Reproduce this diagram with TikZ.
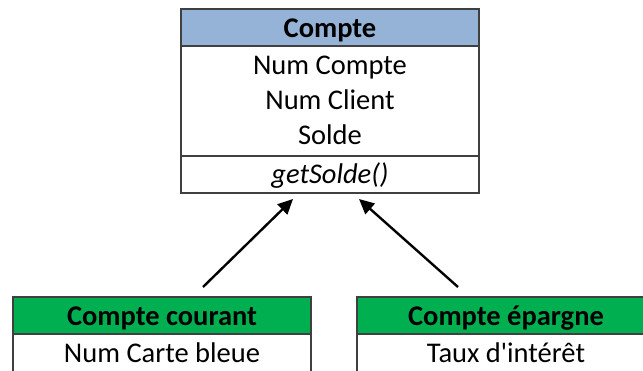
\documentclass[tikz,border=0pt]{standalone}
\usepackage{fontspec}
\setmainfont{Carlito}
\usetikzlibrary{arrows.meta}

\definecolor{headblue}{RGB}{149,179,215}
\definecolor{headgreen}{RGB}{0,176,80}
\definecolor{edgegray}{RGB}{64,64,64}

\tikzset{
  section/.style={draw=edgegray, line width=2pt, inner sep=0pt,
    minimum width=298pt, anchor=north west, outer sep=0pt},
  entry/.style={anchor=base, inner sep=0pt, font=\fontsize{28.5}{34}\selectfont},
  heading/.style={entry, font=\fontsize{28.5}{34}\selectfont\bfseries},
  inherit/.style={line width=2.4pt, -{Triangle[length=15pt,width=14pt]}}
}

\begin{document}
\begin{tikzpicture}[x=1pt, y=-1pt]
  \useasboundingbox (0,0) rectangle (643,370);
  \clip (0,0) rectangle (643,370);

  % Base class Compte
  \node[section, fill=headblue, minimum height=37pt] (cHead) at (181,9) {};
  \node[section, fill=white, minimum height=109.5pt] (cAttr) at (181,46) {};
  \node[section, fill=white, minimum height=37pt] (cMeth) at (181,155.5) {};
  \node[heading] (tCompte) at (330,37) {Compte};
  \node[entry] (tNumCompte) at (330,74) {Num Compte};
  \node[entry] (tNumClient) at (330,109) {Num Client};
  \node[entry] (tSolde) at (330,144) {Solde};
  \node[entry, font=\fontsize{28.5}{34}\selectfont\itshape] (tGet) at (330,183) {getSolde()};

  % Subclass Compte courant
  \node[section, fill=headgreen, minimum height=37pt] (ccHead) at (13,297) {};
  \node[section, fill=white, minimum height=80pt] (ccAttr) at (13,334) {};
  \node[heading] (tCourant) at (162,325) {Compte courant};
  \node[entry] (tCarte) at (162,362) {Num Carte bleue};

  % Subclass Compte épargne
  \node[section, fill=headgreen, minimum height=37pt] (ceHead) at (357,297) {};
  \node[section, fill=white, minimum height=80pt] (ceAttr) at (357,334) {};
  \node[heading] (tEpargne) at (506,325) {Compte épargne};
  \node[entry] (tTaux) at (506,362) {Taux d\textquotesingle intérêt};

  % Inheritance arrows
  \coordinate (ccTail) at (203,287);
  \coordinate (ccTip) at (293,199);
  \coordinate (ceTail) at (458,287);
  \coordinate (ceTip) at (359,199);
  \draw[inherit] (ccTail) -- (ccTip);
  \draw[inherit] (ceTail) -- (ceTip);
\end{tikzpicture}
\end{document}
